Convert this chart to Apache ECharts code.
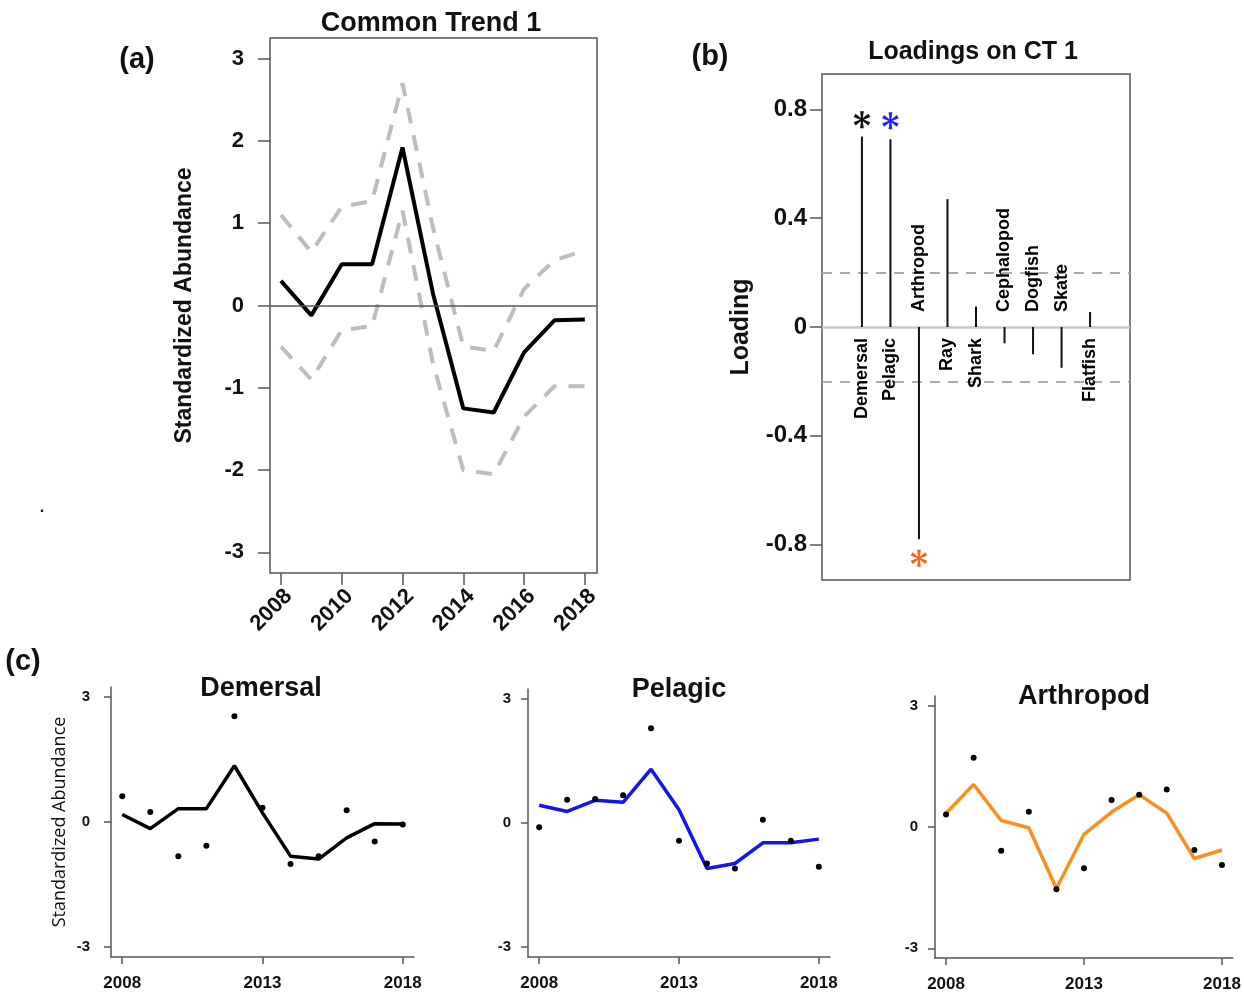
<!DOCTYPE html>
<html>
<head>
<meta charset="UTF-8">
<title>Common trend and loadings</title>
<style>
  html, body { margin: 0; padding: 0; background: #fff; }
  #main { width: 1244px; height: 993px; }
</style>
</head>
<body>
<div id="main"></div>
<script src="https://cdn.jsdelivr.net/npm/echarts@6/dist/echarts.min.js"></script>
<script>
// ---- data ----
var years = [2008, 2009, 2010, 2011, 2012, 2013, 2014, 2015, 2016, 2017, 2018];

// (a) common trend 1 and its interval
var trendMean  = [0.30, -0.12, 0.50, 0.50, 1.92, 0.15, -1.25, -1.30, -0.57, -0.18, -0.17];
var trendUpper = [1.10, 0.65, 1.20, 1.27, 2.70, 0.95, -0.50, -0.55, 0.20, 0.55, 0.67];
var trendLower = [-0.50, -0.90, -0.30, -0.25, 1.15, -0.70, -2.00, -2.05, -1.35, -0.98, -0.98];

// (b) loadings on CT 1
var groups   = ['Demersal', 'Pelagic', 'Arthropod', 'Ray', 'Shark', 'Cephalopod', 'Dogfish', 'Skate', 'Flatfish'];
var loadings = [0.70, 0.69, -0.78, 0.47, 0.075, -0.06, -0.10, -0.15, 0.055];
var threshold = 0.2;
var starGroups = [1, 2, 3];
var starLoads  = [0.762, 0.758, -0.85];

// (c) fitted and observed series
var demersalFit  = [0.18, -0.16, 0.32, 0.32, 1.35, 0.22, -0.82, -0.89, -0.38, -0.04, -0.05];
var demersalObs  = [0.62, 0.24, -0.82, -0.57, 2.54, 0.34, -1.01, -0.82, 0.28, -0.47, -0.06];
var pelagicFit   = [0.43, 0.28, 0.55, 0.50, 1.30, 0.32, -1.10, -0.98, -0.48, -0.48, -0.39];
var pelagicObs   = [-0.10, 0.56, 0.58, 0.67, 2.29, -0.43, -0.98, -1.10, 0.08, -0.43, -1.06];
var arthropodFit = [0.34, 1.05, 0.16, -0.02, -1.52, -0.18, 0.37, 0.80, 0.34, -0.78, -0.57];
var arthropodObs = [0.31, 1.71, -0.59, 0.38, -1.54, -1.02, 0.67, 0.80, 0.93, -0.57, -0.94];

var FONT = 'Liberation Sans, Arial, sans-serif';

// six armed asterisk, like R's "*" marker
var STAR = 'path://M-0.8,0L-2.2,-10L2.2,-10L0.8,0Z' +
  'M-0.4,-0.693L7.56,-6.905L9.76,-3.095L0.4,0.693Z' +
  'M0.4,-0.693L9.76,3.095L7.56,6.905L-0.4,0.693Z' +
  'M0.8,0L2.2,10L-2.2,10L-0.8,0Z' +
  'M0.4,0.693L-7.56,6.905L-9.76,3.095L-0.4,-0.693Z' +
  'M-0.4,0.693L-9.76,-3.095L-7.56,-6.905L0.4,-0.693Z';

function pairs(arr) {
  return years.map(function (y, i) { return [y, arr[i]]; });
}

var chart = echarts.init(document.getElementById('main'));

// small panel axes for (c)
function smallX(idx) {
  return {
    type: 'value', gridIndex: idx, min: 2007.6, max: 2018.4,
    axisLine: { show: true, onZero: false, lineStyle: { color: '#555', width: 1.5 } },
    axisTick: { show: true, length: 7, customValues: [2008, 2013, 2018], lineStyle: { color: '#555', width: 1.5 } },
    axisLabel: { customValues: [2008, 2013, 2018], formatter: function (v) { return String(v); },
      color: '#111', fontFamily: FONT, fontWeight: 'bold', fontSize: 17, margin: 18 },
    splitLine: { show: false }
  };
}
function smallY(idx, margin, name) {
  return {
    type: 'value', gridIndex: idx, min: -3.24, max: 3.24,
    name: name || '', nameLocation: 'middle', nameGap: 42,
    nameTextStyle: { fontFamily: 'Open Sans, sans-serif', fontSize: 18, color: '#111' },
    axisLine: { show: true, onZero: false, lineStyle: { color: '#555', width: 1.5 } },
    axisTick: { show: true, length: 7, customValues: [-3, 0, 3], lineStyle: { color: '#555', width: 1.5 } },
    axisLabel: { customValues: [-3, 0, 3], color: '#111', fontFamily: FONT, fontWeight: 'bold', fontSize: 15, margin: margin },
    splitLine: { show: false }
  };
}
function fitSeries(idx, arr, color) {
  return {
    type: 'line', xAxisIndex: idx, yAxisIndex: idx, data: pairs(arr),
    symbol: 'none', lineStyle: { color: color, width: 3.5 }, z: 2
  };
}
function obsSeries(idx, arr) {
  return {
    type: 'scatter', xAxisIndex: idx, yAxisIndex: idx, data: pairs(arr),
    symbol: 'circle', symbolSize: 6, itemStyle: { color: '#000', opacity: 1 }, z: 3
  };
}

var groupX = groups.map(function (g, i) { return i + 1; });

var option = {
  backgroundColor: '#fff',
  animation: false,
  grid: [
    { left: 270, top: 38, width: 327, height: 535, show: true, borderColor: '#555', borderWidth: 1.5 },
    { left: 822, top: 74, width: 308, height: 506, show: true, borderColor: '#555', borderWidth: 1.5 },
    { left: 111, top: 687, width: 303, height: 270 },
    { left: 528, top: 689, width: 302, height: 268 },
    { left: 935, top: 696, width: 298, height: 263 }
  ],
  xAxis: [
    {
      type: 'value', gridIndex: 0, min: 2007.64, max: 2018.4,
      axisLine: { show: false, onZero: false },
      axisTick: { show: true, length: 12, customValues: [2008, 2010, 2012, 2014, 2016, 2018], lineStyle: { color: '#555', width: 1.5 } },
      axisLabel: { customValues: [2008, 2010, 2012, 2014, 2016, 2018], formatter: function (v) { return String(v); },
        rotate: 45, margin: 12, verticalAlign: 'top', color: '#111', fontFamily: FONT, fontWeight: 'bold', fontSize: 22 },
      splitLine: { show: false }
    },
    { type: 'value', gridIndex: 1, min: -0.4, max: 10.4, show: false, splitLine: { show: false } },
    smallX(2), smallX(3), smallX(4)
  ],
  yAxis: [
    {
      type: 'value', gridIndex: 0, min: -3.25, max: 3.25,
      name: 'Standardized Abundance', nameLocation: 'middle', nameGap: 74,
      nameTextStyle: { fontFamily: FONT, fontWeight: 'bold', fontSize: 23, color: '#111' },
      axisLine: { show: false, onZero: false },
      axisTick: { show: true, length: 12, customValues: [-3, -2, -1, 0, 1, 2, 3], lineStyle: { color: '#555', width: 1.5 } },
      axisLabel: { customValues: [-3, -2, -1, 0, 1, 2, 3], margin: 26, color: '#111', fontFamily: FONT, fontWeight: 'bold', fontSize: 22 },
      splitLine: { show: false }
    },
    {
      type: 'value', gridIndex: 1, min: -0.93, max: 0.93,
      name: 'Loading', nameLocation: 'middle', nameGap: 68,
      nameTextStyle: { fontFamily: FONT, fontWeight: 'bold', fontSize: 25, color: '#111' },
      axisLine: { show: false, onZero: false },
      axisTick: { show: true, length: 12, customValues: [-0.8, -0.4, 0, 0.4, 0.8], lineStyle: { color: '#555', width: 1.5 } },
      axisLabel: { customValues: [-0.8, -0.4, 0, 0.4, 0.8], margin: 15,
        formatter: function (v) { return v === 0 ? '0' : v.toFixed(1); },
        color: '#111', fontFamily: FONT, fontWeight: 'bold', fontSize: 24 },
      splitLine: { show: false }
    },
    smallY(2, 21, 'Standardized Abundance'), smallY(3, 17), smallY(4, 17)
  ],
  graphic: [
    { type: 'text', x: 431, y: 24, style: { text: 'Common Trend 1', font: 'bold 27px ' + FONT, fill: '#111', textAlign: 'center', textVerticalAlign: 'middle' } },
    { type: 'text', x: 137, y: 60, style: { text: '(a)', font: 'bold 29px ' + FONT, fill: '#111', textAlign: 'center', textVerticalAlign: 'middle' } },
    { type: 'text', x: 710, y: 57, style: { text: '(b)', font: 'bold 29px ' + FONT, fill: '#111', textAlign: 'center', textVerticalAlign: 'middle' } },
    { type: 'text', x: 973, y: 52, style: { text: 'Loadings on CT 1', font: 'bold 25px ' + FONT, fill: '#111', textAlign: 'center', textVerticalAlign: 'middle' } },
    { type: 'text', x: 23, y: 662, style: { text: '(c)', font: 'bold 29px ' + FONT, fill: '#111', textAlign: 'center', textVerticalAlign: 'middle' } },
    { type: 'text', x: 42, y: 508, style: { text: '.', font: 'bold 16px ' + FONT, fill: '#111', textAlign: 'center', textVerticalAlign: 'middle' } },
    { type: 'text', x: 261, y: 689, style: { text: 'Demersal', font: 'bold 27px ' + FONT, fill: '#111', textAlign: 'center', textVerticalAlign: 'middle' } },
    { type: 'text', x: 679, y: 690, style: { text: 'Pelagic', font: 'bold 27px ' + FONT, fill: '#111', textAlign: 'center', textVerticalAlign: 'middle' } },
    { type: 'text', x: 1084, y: 697, style: { text: 'Arthropod', font: 'bold 27px ' + FONT, fill: '#111', textAlign: 'center', textVerticalAlign: 'middle' } }
  ],
  series: [
    // (a)
    {
      type: 'line', xAxisIndex: 0, yAxisIndex: 0, data: pairs(trendUpper), symbol: 'none',
      lineStyle: { color: '#bdbdbd', width: 4, type: [16, 12] }
    },
    {
      type: 'line', xAxisIndex: 0, yAxisIndex: 0, data: pairs(trendLower), symbol: 'none',
      lineStyle: { color: '#bdbdbd', width: 4, type: [16, 12] }
    },
    {
      type: 'line', xAxisIndex: 0, yAxisIndex: 0, data: pairs(trendMean), symbol: 'none',
      lineStyle: { color: '#000', width: 4 },
      markLine: { silent: true, symbol: 'none', label: { show: false },
        lineStyle: { color: '#555', width: 1.5, type: 'solid' }, data: [{ yAxis: 0 }] }
    },
    // (b)
    {
      type: 'bar', xAxisIndex: 1, yAxisIndex: 1, barWidth: 2,
      data: groupX.map(function (x, i) { return [x, loadings[i]]; }),
      itemStyle: { color: '#111' }, z: 3,
      markLine: { silent: true, symbol: 'none', label: { show: false }, z: 1,
        data: [
          { yAxis: 0, lineStyle: { color: '#c8c8c8', width: 2.5, type: 'solid' } },
          { yAxis: threshold, lineStyle: { color: '#aaa', width: 2, type: [10, 8] } },
          { yAxis: -threshold, lineStyle: { color: '#aaa', width: 2, type: [10, 8] } }
        ] }
    },
    {
      type: 'scatter', xAxisIndex: 1, yAxisIndex: 1, symbolSize: 0, z: 4,
      itemStyle: { opacity: 1 },
      data: groupX.map(function (x, i) {
        var pos = loadings[i] >= 0;
        return {
          value: [x, 0], name: groups[i],
          label: {
            show: true, formatter: groups[i], rotate: 90,
            position: pos ? 'bottom' : 'top', distance: pos ? 11 : 15,
            align: pos ? 'right' : 'left', verticalAlign: 'middle',
            color: '#000', opacity: 1, fontFamily: FONT, fontWeight: 'bold', fontSize: 18
          }
        };
      })
    },
    {
      type: 'scatter', xAxisIndex: 1, yAxisIndex: 1, z: 5,
      symbol: STAR, symbolSize: 17, symbolKeepAspect: true,
      data: starGroups.map(function (x, i) {
        var colors = ['#111', '#1f1fff', '#ff5f14'];
        return { value: [x, starLoads[i]], itemStyle: { color: colors[i], opacity: 1 } };
      })
    },
    // (c)
    fitSeries(2, demersalFit, '#000'), obsSeries(2, demersalObs),
    fitSeries(3, pelagicFit, '#1414f0'), obsSeries(3, pelagicObs),
    fitSeries(4, arthropodFit, '#f7901e'), obsSeries(4, arthropodObs)
  ]
};

chart.setOption(option);
</script>
</body>
</html>
